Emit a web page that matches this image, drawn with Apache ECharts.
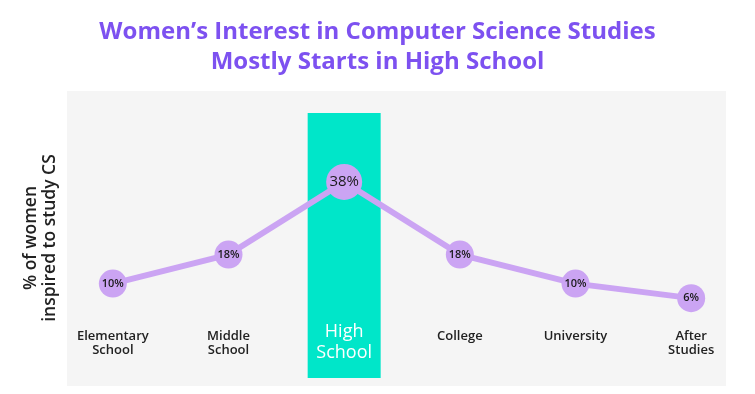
<!DOCTYPE html>
<html>
<head>
<meta charset="utf-8">
<script src="https://cdn.jsdelivr.net/npm/echarts@6/dist/echarts.min.js"></script>
<style>html,body{margin:0;padding:0;background:#fff;}#c{width:755px;height:394px;}</style>
</head>
<body>
<div id="c"></div>
<script>
const categories = ['Elementary School', 'Middle School', 'High School', 'College', 'University', 'After Studies'];
const shares = [10, 18, 38, 18, 10, 6];
const highlightCategory = 'High School';
const titleLines = ["Women\u2019s Interest in Computer Science Studies", 'Mostly Starts in High School'];
const yAxisTitle = ['% of women', 'inspired to study CS'];

const FONT = '"Open Sans", "Noto Sans", sans-serif';
const chart = echarts.init(document.getElementById('c'));
const split = s => s.replace(' ', '\n');

const lineData = shares.map((v, i) => {
  const hi = categories[i] === highlightCategory;
  return {
    value: v,
    symbolSize: hi ? 36 : 28,
    label: { fontSize: hi ? 15 : 11, fontWeight: hi ? 500 : 600 }
  };
});
const bandData = categories.map(c => c === highlightCategory ? 1 : null);

chart.setOption({
  animation: false,
  title: {
    text: titleLines.join('\n'),
    left: 'center',
    top: 12,
    textStyle: { fontFamily: FONT, fontSize: 24, fontWeight: 'bold', color: '#7d51f0', lineHeight: 30 }
  },
  graphic: [
    { type: 'rect', z: -10, shape: { x: 67, y: 91, width: 659, height: 295 }, style: { fill: '#f5f5f5' } },
    { type: 'text', x: 41, y: 238, rotation: Math.PI / 2, z: 5,
      style: { text: yAxisTitle.join('\n'), align: 'center', verticalAlign: 'middle',
        fontFamily: FONT, fontSize: 17.5, fontWeight: 600, lineHeight: 19, fill: '#222' } }
  ],
  grid: { left: 55, right: 6, top: 113, bottom: 16 },
  xAxis: {
    type: 'category',
    data: categories,
    boundaryGap: true,
    axisLine: { show: false },
    axisTick: { show: false },
    axisLabel: {
      margin: -49,
      interval: 0,
      fontFamily: FONT, fontSize: 13, fontWeight: 600, color: '#222', lineHeight: 14,
      formatter: v => v === highlightCategory ? '' : split(v)
    }
  },
  yAxis: [
    { type: 'value', min: -16, max: 57, show: false, splitLine: { show: false } },
    { type: 'value', min: 0, max: 1, show: false, splitLine: { show: false } }
  ],
  series: [
    {
      type: 'bar',
      yAxisIndex: 1,
      data: bandData,
      barWidth: 73,
      z: 1,
      itemStyle: { color: '#00e6c9' },
      label: {
        show: true,
        position: 'insideBottom',
        distance: 15,
        fontFamily: FONT, fontSize: 18, fontWeight: 500, lineHeight: 21, color: '#fff',
        formatter: p => split(p.name)
      }
    },
    {
      type: 'line',
      data: lineData,
      z: 3,
      symbol: 'circle',
      lineStyle: { color: '#cba4f3', width: 6 },
      itemStyle: { color: '#cba4f3' },
      label: {
        show: true,
        position: 'inside',
        fontFamily: FONT,
        color: '#1a1a1a',
        formatter: p => p.value + '%'
      }
    }
  ]
});
</script>
</body>
</html>
